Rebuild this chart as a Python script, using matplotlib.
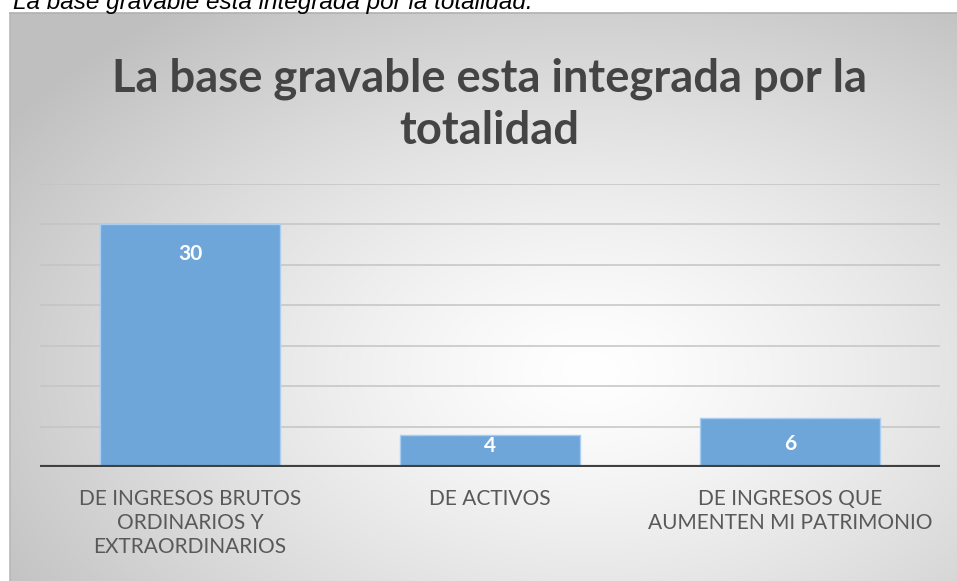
import numpy as np
import matplotlib
matplotlib.use("Agg")
import matplotlib.pyplot as plt

categories = ["DE INGRESOS BRUTOS\nORDINARIOS Y\nEXTRAORDINARIOS",
              "DE ACTIVOS",
              "DE INGRESOS QUE\nAUMENTEN MI PATRIMONIO"]
values = [30, 4, 6]
yticks = [0, 5, 10, 15, 20, 25, 30, 35]
title = "La base gravable esta integrada por la\ntotalidad"
caption = "La base gravable esta integrada por la totalidad."

W, H = 957, 581
fig = plt.figure(figsize=(W / 100, H / 100), dpi=100)
fig.patch.set_facecolor("white")

# chart box background (radial gradient)
bx0, by0 = 10, 13
bg = fig.add_axes([bx0 / W, 0, 1 - bx0 / W, (H - by0) / H])
bg.set_axis_off()
xs = np.arange(bx0, W)
ys = np.arange(by0, H)
X, Y = np.meshgrid(xs, ys)
cx, cy, rx, ry = 590, 370, 700, 450
d = np.sqrt(((X - cx) / rx) ** 2 + ((Y - cy) / ry) ** 2)
g = 1 - 0.25 * np.clip(d, 0, 1) ** 1.3
img = np.dstack([g, g, g])
bg.imshow(img, aspect="auto", extent=[0, 1, 0, 1], origin="upper", interpolation="bilinear")
bg.set_xlim(0, 1)
bg.set_ylim(0, 1)
bg.plot([0, 1], [1, 1], color="#b0b0b0", lw=1.2, transform=bg.transAxes, clip_on=False)
bg.plot([0.0005, 0.0005], [0, 1], color="#b8b8b8", lw=1.2, transform=bg.transAxes, clip_on=False)

fig.text(13 / W, 1 - 9 / H, caption, fontsize=17.5, style="italic",
         family="Liberation Sans", color="black", ha="left", va="baseline")

# plot area
px0, px1, py_base, py_top = 40, 940, 467, 184
ax = fig.add_axes([px0 / W, (H - py_base) / H, (px1 - px0) / W, (py_base - py_top) / H])
ax.patch.set_alpha(0)
ax.set_xlim(-0.5, len(values) - 0.5)
ax.set_ylim(yticks[0], yticks[-1])
for t in yticks[1:]:
    ax.axhline(t, color="#c4c4c4", lw=1.1, zorder=1)
x = np.arange(len(values))
bars = ax.bar(x, values, width=0.6, color="#6fa6da", edgecolor="#a8cdf0", linewidth=1.0, zorder=2)
ax.axhline(0, color="#404040", lw=3, zorder=3)
for s in ax.spines.values():
    s.set_visible(False)
ax.set_yticks([])
ax.set_xticks(x)
ax.set_xticklabels(categories, fontsize=15, color="#595959", family="Lato",
                   linespacing=1.25)
ax.tick_params(axis="x", length=0, pad=16)

label_offsets = [-27, -8, -23]
for xi, v, off in zip(x, values, label_offsets):
    ax.annotate(str(v), (xi, v), xytext=(0, (off - 3) * 0.72), textcoords="offset points",
                ha="center", va="center", color="white", fontsize=15, fontweight="bold",
                family="Lato", zorder=4)

fig.text(489 / W, 1 - 104.5 / H, title, ha="center", va="center", fontsize=32.7,
         fontweight="bold", color="#444444", family="Lato", linespacing=1.3)

fig.savefig("out.png", dpi=100)
